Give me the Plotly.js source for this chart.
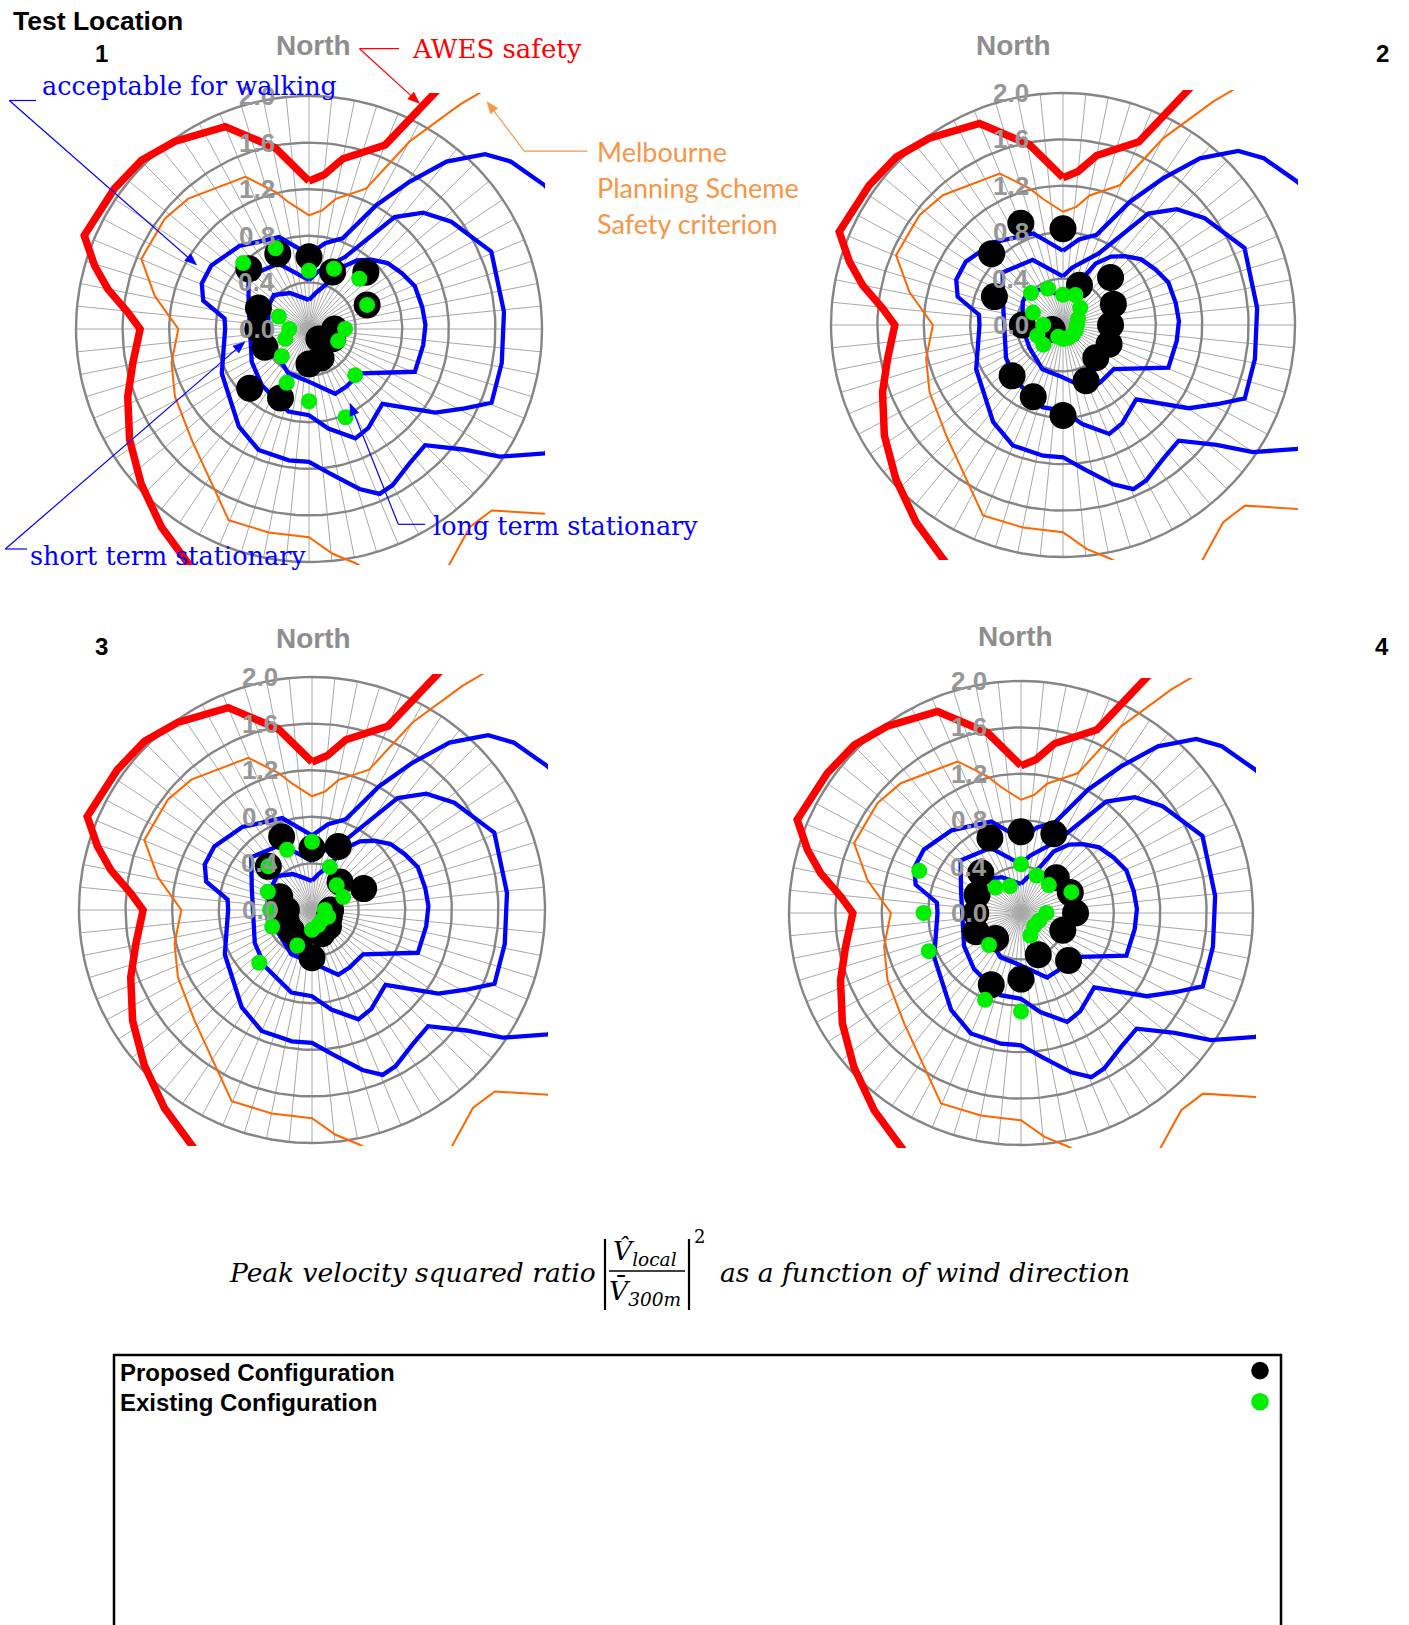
<!DOCTYPE html>
<html>
<head>
<meta charset="utf-8">
<script src="https://cdn.plot.ly/plotly-3.0.1.min.js"></script>
<style>
html,body{margin:0;padding:0;background:#ffffff;}
#chart{width:1409px;height:1625px;}
</style>
</head>
<body>
<div id="chart"></div>
<script>
// ================= DATA =================
// 16 wind directions (degrees clockwise from North)
const DIRECTIONS = [0, 22.5, 45, 67.5, 90, 112.5, 135, 157.5, 180, 202.5, 225, 247.5, 270, 292.5, 315, 337.5];

// Peak velocity squared ratio per test location
const LOC1_PROPOSED = [0.62, 0.53, 0.69, 0.54, 0.22, 0.22, 0.12, 0.27, 0.30, 0.64, 0.72, 0.41, 0.44, 0.47, 0.73, 0.70];
const LOC1_EXISTING = [0.50, 0.56, 0.61, 0.54, 0.31, 0.27, 0.56, 0.82, 0.62, 0.50, 0.33, 0.22, 0.17, 0.28, 0.80, 0.75];
const LOC2_PROPOSED = [0.83, 0.37, 0.58, 0.47, 0.41, 0.43, 0.40, 0.52, 0.78, 0.67, 0.62, 0.10, 0.35, 0.64, 0.87, 0.95];
const LOC2_EXISTING = [0.26, 0.28, 0.21, 0.14, 0.12, 0.12, 0.12, 0.12, 0.12, 0.11, 0.24, 0.24, 0.17, 0.28, 0.39, 0.34];
const LOC3_PROPOSED = [0.53, 0.59, 0.34, 0.48, 0.16, 0.16, 0.20, 0.22, 0.41, 0.28, 0.25, 0.24, 0.22, 0.30, 0.53, 0.68];
const LOC3_EXISTING = [0.585, 0.40, 0.30, 0.29, 0.11, 0.15, 0.12, 0.14, 0.17, 0.33, 0.64, 0.37, 0.36, 0.41, 0.53, 0.56];
const LOC4_PROPOSED = [0.70, 0.74, 0.43, 0.46, 0.47, 0.39, 0.58, 0.39, 0.57, 0.67, 0.31, 0.42, 0.39, 0.41, 0.49, 0.70];
const LOC4_EXISTING = [0.42, 0.35, 0.34, 0.47, 0.22, 0.17, 0.16, 0.21, 0.85, 0.81, 0.39, 0.86, 0.84, 0.95, 0.31, 0.25];

// Criteria curves (direction in degrees, ratio)
const AWES_SAFETY_THETA = [0, 5.6, 11.25, 22.5, 33.75, 60, 90, 120, 150, 180, 202.5, 216.7, 227.3, 238.3, 249.6, 259.1, 270, 275.2, 281.2, 286.5, 292.6, 305.8, 315.2, 324.4, 337.5, 349.5, 360];
const AWES_SAFETY_R     = [1.27, 1.33, 1.49, 1.71, 3.6, 3.8, 3.8, 3.8, 3.6, 3.2, 2.37, 2.12, 1.96, 1.81, 1.66, 1.54, 1.45, 1.56, 1.76, 1.92, 2.09, 2.06, 2.04, 1.98, 1.88, 1.58, 1.27];

const MPS_SAFETY_THETA = [0, 6.4, 11.6, 22.1, 28.2, 33.9, 45, 70, 100, 123.75, 134.8, 140.9, 149.1, 156.3, 168.75, 174, 180, 191.2, 202.8, 214.2, 226.6, 243.3, 256.2, 270, 282.1, 292.7, 307.4, 317.2, 337.3, 346.3, 351, 360];
const MPS_SAFETY_R     = [0.976, 1.025, 1.14, 1.30, 1.826, 2.32, 4.0, 3.6, 3.3, 2.9, 2.21, 2.19, 2.35, 2.56, 2.05, 1.94, 1.787, 1.78, 1.78, 1.535, 1.386, 1.288, 1.215, 1.122, 1.354, 1.56, 1.558, 1.525, 1.416, 1.21, 1.10, 0.976];

const WALKING_THETA = [0, 10.6, 20.4, 28.5, 34.3, 39.4, 45.2, 50.3, 58.7, 75, 95, 110, 117.8, 123.8, 128, 135, 143, 151.8, 156.8, 162.5, 172, 180, 188.7, 202.6, 215.8, 243, 270, 277, 285, 293, 303, 320, 342, 360];
const WALKING_R     = [0.64, 0.75, 0.83, 1.21, 1.53, 1.86, 2.13, 2.25, 2.37, 2.6, 2.6, 2.45, 2.29, 1.97, 1.68, 1.41, 1.44, 1.52, 1.54, 1.44, 1.25, 1.14, 1.14, 1.125, 1.03, 0.84, 0.72, 0.73, 0.94, 1.00, 1.00, 0.93, 0.83, 0.64];

const SHORT_TERM_THETA = [0, 9, 26.5, 37.4, 44.5, 53, 67, 85, 100, 112, 117, 123.5, 135.5, 149, 157, 169, 180, 194, 220, 240, 270, 290, 311, 335, 360];
const SHORT_TERM_R     = [0.42, 0.50, 0.69, 1.21, 1.40, 1.53, 1.70, 1.68, 1.68, 1.69, 1.50, 1.30, 0.90, 0.99, 1.02, 0.87, 0.74, 0.73, 0.63, 0.567, 0.507, 0.55, 0.69, 0.62, 0.42];

const LONG_TERM_THETA = [0, 10, 22.5, 28, 35, 42, 50, 59, 68, 79, 88, 98, 112, 131, 147, 158, 184, 205, 236, 260, 280, 300, 314, 332, 360];
const LONG_TERM_R     = [0.25, 0.31, 0.43, 0.60, 0.72, 0.80, 0.88, 0.93, 0.98, 0.99, 1.00, 0.99, 0.98, 0.58, 0.59, 0.60, 0.44, 0.42, 0.35, 0.34, 0.355, 0.40, 0.42, 0.35, 0.25];

const RADIAL_TICKS = [0.0, 0.4, 0.8, 1.2, 1.6, 2.0];
const RADIAL_TICK_LABELS = ['0.0', '0.4', '0.8', '1.2', '1.6', '2.0'];
const SPOKE_COUNT = 64;

const LOCATION_LABELS = ['1', '2', '3', '4'];
const SERIES_NAMES = ['Proposed Configuration', 'Existing Configuration'];

// ================= LAYOUT HELPERS =================
const W = 1409, H = 1625;
const DEG = Math.PI / 180;
const PX = x => x / W;
const PY = y => 1 - y / H;

const SANS = 'Liberation Sans, Arial, sans-serif';
const SERIF = 'DejaVu Serif, serif';
const CAL = 'Lato, Open Sans, sans-serif';
const C_RED = '#ff0000', C_ORANGE = '#ff6600', C_ORANGE_TXT = '#f79646', C_BLUE = '#0000ff';
const C_GREEN = '#00ee00', C_GRAY_TXT = '#8e8e8e', C_TICK = '#979797';

const PANELS = [
  {cx: 309,  cy: 329, R: 233, proposed: LOC1_PROPOSED, existing: LOC1_EXISTING, lx: 101.5, ly: 54,    nx: 313,  ny: 45.6},
  {cx: 1063, cy: 325, R: 232, proposed: LOC2_PROPOSED, existing: LOC2_EXISTING, lx: 1382,  ly: 54,    nx: 1013, ny: 45.6},
  {cx: 312,  cy: 910, R: 233, proposed: LOC3_PROPOSED, existing: LOC3_EXISTING, lx: 101.5, ly: 646.5, nx: 313,  ny: 638},
  {cx: 1021, cy: 913, R: 232, proposed: LOC4_PROPOSED, existing: LOC4_EXISTING, lx: 1382,  ly: 646.5, nx: 1015, ny: 636}
];

function toX(theta, r) { return theta.map((t, i) => r[i] * Math.sin(t * DEG)); }
function toY(theta, r) { return theta.map((t, i) => r[i] * Math.cos(t * DEG)); }

const rMax = RADIAL_TICKS[RADIAL_TICKS.length - 1];

// grid geometry (spokes & rings) in data units
function spokesXY() {
  const x = [], y = [];
  for (let k = 0; k < SPOKE_COUNT; k++) {
    const a = k * 360 / SPOKE_COUNT * DEG;
    x.push(0, rMax * Math.sin(a), null);
    y.push(0, rMax * Math.cos(a), null);
  }
  return {x, y};
}
function ringsXY() {
  const x = [], y = [];
  RADIAL_TICKS.forEach(r => {
    if (r <= 0) return;
    for (let a = 0; a <= 360; a += 2) {
      x.push(r * Math.sin(a * DEG));
      y.push(r * Math.cos(a * DEG));
    }
    x.push(null); y.push(null);
  });
  return {x, y};
}

const traces = [];
const layout = {
  width: W, height: H,
  margin: {l: 0, r: 0, t: 0, b: 0},
  paper_bgcolor: '#ffffff',
  plot_bgcolor: 'rgba(0,0,0,0)',
  showlegend: false,
  annotations: [],
  shapes: []
};

const spokes = spokesXY();
const rings = ringsXY();

PANELS.forEach((p, i) => {
  const s = i === 0 ? '' : String(i + 1);
  const xa = 'x' + s, ya = 'y' + s;
  const hs = p.R + 3;
  const rg = rMax * hs / p.R;
  layout['xaxis' + s] = {domain: [PX(p.cx - hs), PX(p.cx + hs)], range: [-rg, rg], autorange: false,
                          visible: false, fixedrange: true, anchor: ya};
  layout['yaxis' + s] = {domain: [PY(p.cy + hs), PY(p.cy - hs)], range: [-rg, rg], autorange: false,
                          visible: false, fixedrange: true, anchor: xa};

  const base = {xaxis: xa, yaxis: ya, hoverinfo: 'skip'};
  traces.push(Object.assign({type: 'scatter', mode: 'lines', x: spokes.x, y: spokes.y,
    line: {color: '#a8a8a8', width: 1}}, base));
  traces.push(Object.assign({type: 'scatter', mode: 'lines', x: rings.x, y: rings.y,
    line: {color: '#858585', width: 2.4}}, base));
  traces.push(Object.assign({type: 'scatter', mode: 'lines', name: 'Melbourne Planning Scheme Safety criterion',
    x: toX(MPS_SAFETY_THETA, MPS_SAFETY_R), y: toY(MPS_SAFETY_THETA, MPS_SAFETY_R),
    line: {color: C_ORANGE, width: 2}}, base));
  [[WALKING_THETA, WALKING_R, 'acceptable for walking'],
   [SHORT_TERM_THETA, SHORT_TERM_R, 'short term stationary'],
   [LONG_TERM_THETA, LONG_TERM_R, 'long term stationary']].forEach(c => {
    traces.push(Object.assign({type: 'scatter', mode: 'lines', name: c[2],
      x: toX(c[0], c[1]), y: toY(c[0], c[1]), line: {color: C_BLUE, width: 4.3}}, base));
  });
  traces.push(Object.assign({type: 'scatter', mode: 'lines', name: 'AWES safety',
    x: toX(AWES_SAFETY_THETA, AWES_SAFETY_R), y: toY(AWES_SAFETY_THETA, AWES_SAFETY_R),
    line: {color: C_RED, width: 7.5}}, base));
  traces.push(Object.assign({type: 'scatter', mode: 'markers', name: SERIES_NAMES[0],
    x: toX(DIRECTIONS, p.proposed), y: toY(DIRECTIONS, p.proposed),
    marker: {color: '#000000', size: 27, line: {width: 0}}}, base));
  traces.push(Object.assign({type: 'scatter', mode: 'markers', name: SERIES_NAMES[1],
    x: toX(DIRECTIONS, p.existing), y: toY(DIRECTIONS, p.existing),
    marker: {color: C_GREEN, size: 16, line: {width: 0}}}, base));

  // radial tick labels along the North spoke
  RADIAL_TICKS.forEach((r, k) => {
    layout.annotations.push({xref: xa, yref: ya, x: 0, y: r, text: '<b>' + RADIAL_TICK_LABELS[k] + '</b>',
      xanchor: 'right', yanchor: 'middle', xshift: -32, showarrow: false,
      font: {family: SANS, size: 26, color: C_TICK}});
  });
  // North label and location number
  layout.annotations.push({xref: 'paper', yref: 'paper', x: PX(p.nx), y: PY(p.ny), text: '<b>North</b>',
    xanchor: 'center', yanchor: 'middle', showarrow: false, font: {family: SANS, size: 28, color: C_GRAY_TXT}});
  layout.annotations.push({xref: 'paper', yref: 'paper', x: PX(p.lx), y: PY(p.ly), text: '<b>' + LOCATION_LABELS[i] + '</b>',
    xanchor: 'center', yanchor: 'middle', showarrow: false, font: {family: SANS, size: 24, color: '#000000'}});
});

// ---------- text annotations ----------
function txt(x, y, text, font, xanchor) {
  layout.annotations.push({xref: 'paper', yref: 'paper', x: PX(x), y: PY(y), text: text,
    xanchor: xanchor || 'left', yanchor: 'middle', showarrow: false, font: font});
}
function seg(x0, y0, x1, y1, color, width) {
  layout.shapes.push({type: 'line', xref: 'paper', yref: 'paper', x0: PX(x0), y0: PY(y0), x1: PX(x1), y1: PY(y1),
    line: {color: color, width: width || 1.2}, layer: 'above'});
}
// leader line with a filled arrowhead at the tip (pixel geometry -> paper)
function arrow(tipX, tipY, tailX, tailY, color) {
  const dx = tipX - tailX, dy = tipY - tailY;
  const len = Math.sqrt(dx * dx + dy * dy);
  const ux = dx / len, uy = dy / len;
  const L = 12, w = 4.6;
  const bx = tipX - ux * L, by = tipY - uy * L;
  const nx = -uy, ny = ux;
  seg(tailX, tailY, bx + ux * 1, by + uy * 1, color, 1.2);
  const pts = [[tipX, tipY], [bx + nx * w, by + ny * w], [bx - nx * w, by - ny * w]];
  const path = 'M' + pts.map(q => PX(q[0]).toFixed(6) + ',' + PY(q[1]).toFixed(6)).join('L') + 'Z';
  layout.shapes.push({type: 'path', xref: 'paper', yref: 'paper', path: path,
    fillcolor: color, line: {color: color, width: 0.5}, layer: 'above'});
}

txt(10.5, 21, '<b>Test Location</b>', {family: SANS, size: 26.5, color: '#000000'});

txt(410, 48.7, 'AWES safety', {family: SERIF, size: 26, color: C_RED});
seg(399, 48.7, 359.5, 48.7, C_RED);
arrow(419.6, 103.6, 359.5, 48.7, C_RED);

txt(39.5, 86, 'acceptable for walking', {family: SERIF, size: 25.5, color: C_BLUE});
seg(9.3, 100.5, 36, 100.5, C_BLUE);
arrow(196.7, 265, 9.3, 100.5, C_BLUE);

txt(594.8, 151.3, 'Melbourne', {family: CAL, size: 27, color: C_ORANGE_TXT});
txt(594.8, 187.5, 'Planning Scheme', {family: CAL, size: 27, color: C_ORANGE_TXT});
txt(594.8, 223.8, 'Safety criterion', {family: CAL, size: 27, color: C_ORANGE_TXT});
seg(587.4, 151.2, 524.2, 151.2, C_ORANGE_TXT);
arrow(486.9, 101.5, 524.2, 151.2, C_ORANGE_TXT);

txt(431, 526.3, 'long term stationary', {family: SERIF, size: 25.5, color: C_BLUE});
seg(398.3, 524.3, 425, 524.3, C_BLUE);
arrow(350, 403.3, 398.3, 524.3, C_BLUE);

txt(27.5, 556.3, 'short term stationary', {family: SERIF, size: 25.5, color: C_BLUE});
seg(5.3, 549, 27, 549, C_BLUE);
arrow(245, 341.7, 5.3, 549, C_BLUE);

// ---------- formula ----------
const FML = {family: SERIF, size: 26.5, color: '#000000', style: 'italic'};
txt(598, 1272, 'Peak velocity squared ratio', FML, 'right');
txt(645, 1252, 'V\u0302<sub>local</sub>', FML, 'center');
txt(645, 1292, 'V\u0304<sub>300m</sub>', FML, 'center');
txt(699, 1236, '2', {family: SERIF, size: 18, color: '#000000'}, 'center');
txt(718, 1272, 'as a function of wind direction', FML, 'left');
seg(605, 1239, 605, 1310, '#000000', 2.2);
seg(689, 1239, 689, 1310, '#000000', 2.2);
seg(609, 1271, 685, 1271, '#000000', 1.6);

// ---------- legend box ----------
layout.shapes.push({type: 'rect', xref: 'paper', yref: 'paper', x0: PX(114), x1: PX(1281), y0: -0.05, y1: PY(1355),
  line: {color: '#000000', width: 2.5}, fillcolor: 'rgba(0,0,0,0)', layer: 'above'});
txt(117.5, 1372.7, '<b>' + SERIES_NAMES[0] + '</b>', {family: SANS, size: 24, color: '#000000'});
txt(117.5, 1402.8, '<b>' + SERIES_NAMES[1] + '</b>', {family: SANS, size: 24, color: '#000000'});
[[1370.6, '#000000'], [1401.7, C_GREEN]].forEach(d => {
  layout.shapes.push({type: 'circle', xref: 'paper', yref: 'paper', x0: PX(1260 - 8.8), x1: PX(1260 + 8.8),
    y0: PY(d[0] + 8.8), y1: PY(d[0] - 8.8), fillcolor: d[1], line: {width: 0}, layer: 'above'});
});

Plotly.newPlot('chart', traces, layout, {staticPlot: true, displayModeBar: false}).then(() => {
  // drop empty placeholder text nodes left by the hidden axes
  document.querySelectorAll('#chart text').forEach(t => {
    if (!t.textContent || !t.textContent.trim()) t.remove();
  });
});
</script>
</body>
</html>
